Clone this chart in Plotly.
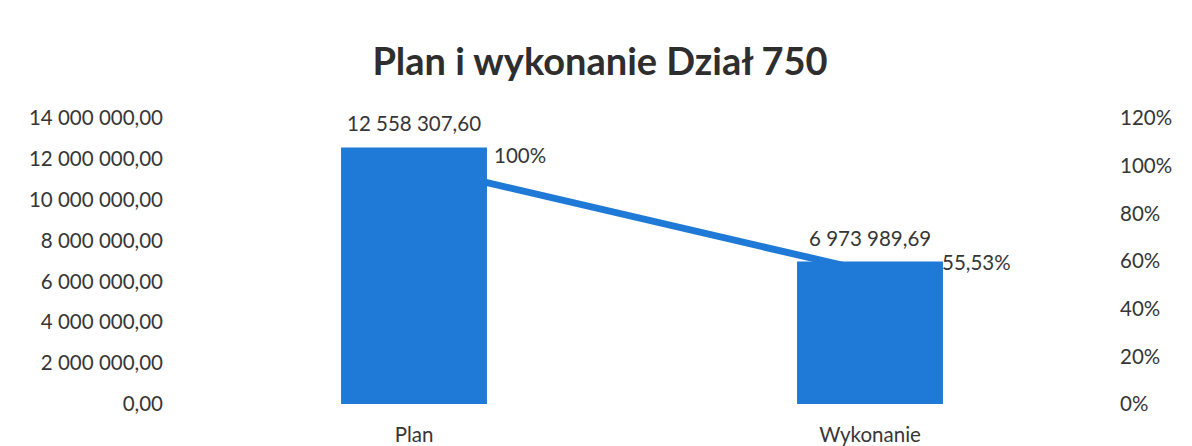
import plotly.graph_objects as go

categories = ["Plan", "Wykonanie"]
amounts = [12558307.60, 6973989.69]
percent = [1.0, 0.5553]
pct_labels = ["100%", "55,53%"]
left_ticks = [0, 2e6, 4e6, 6e6, 8e6, 10e6, 12e6, 14e6]
right_ticks = [0, 0.2, 0.4, 0.6, 0.8, 1.0, 1.2]

BLUE = "#1E7AD6"
TXT = "#363636"
FONT = "Lato, 'Open Sans', sans-serif"
FS = 20.5

# page body has an 8px default margin, so the figure is offset by 8px
W, H = 1184, 438

def pl(v):
    s = f"{v:,.2f}"
    return s.replace(",", " ").replace(".", ",")

fig = go.Figure()
# line on base axis (drawn below), bars on overlaying axis (drawn above)
fig.add_trace(go.Scatter(x=categories, y=percent, mode="lines",
                         line=dict(color=BLUE, width=7), yaxis="y",
                         hoverinfo="skip", showlegend=False))
fig.add_trace(go.Bar(x=categories, y=amounts, marker=dict(color=BLUE, line=dict(width=0)),
                     yaxis="y2", showlegend=False))

annotations = []
for c, a in zip(categories, amounts):
    annotations.append(dict(x=c, y=a, xref="x", yref="y2", text=pl(a), showarrow=False,
                            yanchor="bottom", yshift=10, font=dict(size=FS, color=TXT, family=FONT)))
shifts = [(78, 11), (70, 10)]
for c, p, t, (dx, dy) in zip(categories, percent, pct_labels, shifts):
    annotations.append(dict(x=c, y=p, xref="x", yref="y", text=t, showarrow=False,
                            xanchor="left", yanchor="middle", xshift=dx, yshift=dy,
                            font=dict(size=FS, color=TXT, family=FONT)))

fig.update_layout(
    width=W, height=H,
    margin=dict(l=178, r=94, t=110, b=42),
    paper_bgcolor="white", plot_bgcolor="white",
    separators=", ",
    font=dict(family=FONT, color=TXT, size=FS),
    title=dict(text="<b>Plan i wykonanie Dział 750</b>", x=0.5, xanchor="center",
               y=1 - 54 / H, yanchor="middle", yref="container",
               font=dict(size=38, color="#2e2e2e", family=FONT)),
    bargap=0.68,
    xaxis=dict(showgrid=False, showline=False, zeroline=False, ticks="", automargin=False,
               ticklabelstandoff=16, tickfont=dict(size=FS, color=TXT)),
    yaxis=dict(side="right", range=[0, 1.2], tickvals=right_ticks, tickformat=".0%",
               showgrid=False, zeroline=False, showline=False, ticks="", automargin=False,
               ticklabelstandoff=21, tickfont=dict(size=FS, color=TXT)),
    yaxis2=dict(side="left", overlaying="y", range=[0, 14e6], tickvals=left_ticks,
                tickformat=",.2f", showgrid=False, zeroline=False, showline=False, ticks="",
                automargin=False,
                ticklabelstandoff=22, tickfont=dict(size=FS, color=TXT)),
    annotations=annotations,
)

fig.write_html("out.html")
